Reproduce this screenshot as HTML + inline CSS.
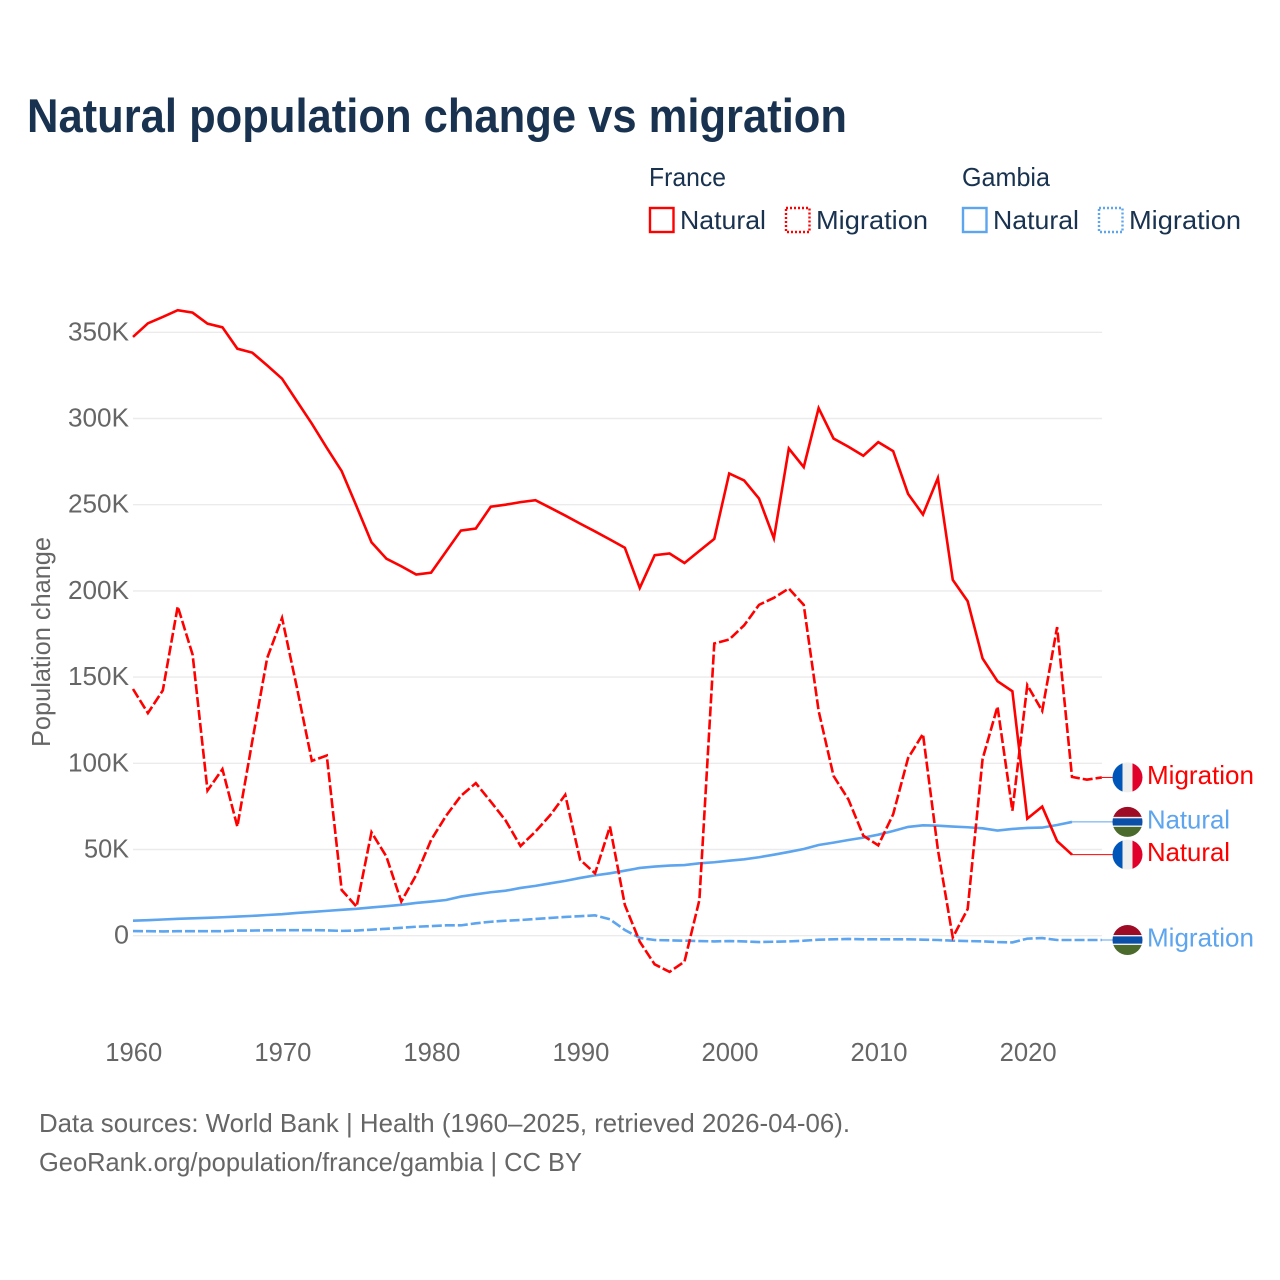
<!DOCTYPE html>
<html lang="en">
<head>
<meta charset="utf-8">
<title>Natural population change vs migration</title>
<style>
  html, body { margin: 0; padding: 0; background: #fff; }
  svg { display: block; font-family: "Liberation Sans", sans-serif; }
</style>
</head>
<body>
<svg id="chart" xmlns="http://www.w3.org/2000/svg" width="1280" height="1280" viewBox="0 0 1280 1280">
  <defs>
    <clipPath id="flag-clip"><circle cx="0" cy="0" r="15"></circle></clipPath>
  </defs>
  <rect x="0" y="0" width="1280" height="1280" fill="#ffffff"></rect>

  <text x="27" y="132" font-size="47" font-weight="700" fill="#18324f" textLength="820" lengthAdjust="spacingAndGlyphs">Natural population change vs migration</text>

  <g font-size="26" fill="#18324f">
    <text x="649" y="186" textLength="77" lengthAdjust="spacingAndGlyphs">France</text>
    <text x="962" y="186" textLength="88" lengthAdjust="spacingAndGlyphs">Gambia</text>

    <rect x="650" y="208" width="23.5" height="24" fill="none" stroke="#ff0000" stroke-width="2.4"></rect>
    <text x="680" y="229" textLength="86" lengthAdjust="spacingAndGlyphs">Natural</text>

    <rect x="786" y="208" width="23.5" height="24" fill="none" stroke="#ff0000" stroke-width="2.4" stroke-dasharray="2 2"></rect>
    <text x="816" y="229" textLength="112" lengthAdjust="spacingAndGlyphs">Migration</text>

    <rect x="963" y="208" width="23.5" height="24" fill="none" stroke="#5da5ee" stroke-width="2.4"></rect>
    <text x="993" y="229" textLength="86" lengthAdjust="spacingAndGlyphs">Natural</text>

    <rect x="1099" y="208" width="23.5" height="24" fill="none" stroke="#5da5ee" stroke-width="2.4" stroke-dasharray="2 2"></rect>
    <text x="1129" y="229" textLength="112" lengthAdjust="spacingAndGlyphs">Migration</text>
  </g>

  <g id="grid"></g>
  <g id="y-ticks"></g>
  <g id="x-ticks"></g>

  <text transform="translate(50 642) rotate(-90)" text-anchor="middle" font-size="26" fill="#666666" textLength="210" lengthAdjust="spacingAndGlyphs">Population change</text>

  <g id="series"></g>
  <g id="end-labels"></g>

  <text x="39" y="1132" font-size="26" fill="#666666" textLength="811" lengthAdjust="spacingAndGlyphs">Data sources: World Bank | Health (1960–2025, retrieved 2026-04-06).</text>
  <text x="39" y="1171" font-size="26" fill="#666666" textLength="543" lengthAdjust="spacingAndGlyphs">GeoRank.org/population/france/gambia | CC BY</text>
</svg>

<script>
// Chart data, in thousands of people per year, starting at 1960.
const startYear = 1960;
const yTickValues = [0, 50, 100, 150, 200, 250, 300, 350];
const yTickLabels = ['0', '50K', '100K', '150K', '200K', '250K', '300K', '350K'];
const xTickYears = [1960, 1970, 1980, 1990, 2000, 2010, 2020];

const franceNatural = [
  347.3, 355.2, 358.9, 362.8, 361.4, 355, 352.9, 340.5, 338.2, 330.8,
  323.1, 310, 297, 283, 269.5, 249, 228.2, 218.7, 214.3, 209.5,
  210.6, 222.8, 235, 236.2, 248.8, 250, 251.5, 252.6, 248.2, 243.7,
  239, 234.5, 229.8, 225, 201.7, 220.7, 221.7, 216.2, 223.2, 230.2,
  268.1, 264.1, 253.6, 230.5, 282.6, 271.8, 306, 288.4, 283.6, 278.4,
  286.3, 281.1, 256.3, 244.3, 265.5, 206.4, 194, 160.8, 147.6, 141.8,
  67.9, 74.9, 54.9, 47
];
const franceMigration = [
  143.1, 129.1, 142.3, 191, 163, 84.2, 96.6, 63.3, 112.7, 161,
  184.3, 143.8, 101.4, 104.5, 26.5, 16.8, 60, 45.9, 19.8, 35.2,
  55.5, 69.5, 81.1, 88.5, 77.8, 66.8, 52, 60.4, 70, 81.7,
  44, 36.2, 63.3, 17.8, -3.5, -16.6, -21, -15, 20.7, 169.5,
  171.8, 180, 191.9, 196, 201.4, 191.9, 130.4, 92.7, 79, 58,
  52.4, 70.4, 103, 117, 50, -1, 15.5, 102.5, 132.9, 72.5,
  145.3, 130.4, 179, 92.1, 90.5, 91.8
];
const gambiaNatural = [
  8.7, 9, 9.4, 9.8, 10.1, 10.4, 10.7, 11.1, 11.5, 12,
  12.5, 13.2, 13.8, 14.4, 15, 15.6, 16.4, 17.1, 17.9, 19,
  19.8, 20.7, 22.7, 24, 25.2, 26.1, 27.7, 28.9, 30.4, 31.8,
  33.5, 35, 36.2, 37.7, 39.3, 40.1, 40.7, 41, 42, 42.6,
  43.5, 44.3, 45.5, 47, 48.6, 50.3, 52.6, 54, 55.5, 56.9,
  58.6, 60.7, 63.1, 64, 63.8, 63.3, 62.9, 62.3, 61, 61.9,
  62.5, 62.7, 64.2, 66
];
const gambiaMigration = [
  2.7, 2.6, 2.5, 2.6, 2.6, 2.6, 2.6, 3, 3, 3.1,
  3.2, 3.2, 3.2, 3.1, 2.8, 3, 3.5, 4, 4.6, 5.2,
  5.6, 6, 6, 7.2, 8.1, 8.7, 9.1, 9.7, 10.3, 10.9,
  11.3, 11.8, 9.5, 3.3, -1.3, -2.5, -2.7, -2.9, -3.1, -3.3,
  -3.1, -3.3, -3.7, -3.5, -3.3, -2.9, -2.3, -2.1, -1.9, -2.1,
  -2.1, -2.1, -2.1, -2.3, -2.5, -2.9, -3.1, -3.3, -3.7, -3.9,
  -1.7, -1.4, -2.5, -2.5, -2.5, -2.5
];

const RED = '#ff0000';
const BLUE = '#5da5ee';
const GREY = '#666666';
const NS = 'http://www.w3.org/2000/svg';

// Axis functions
function xScale(year) { return 133 + (year - 1960) * 14.905; }
function yScale(value) { return 935.7 - value * 1.724; }

function make(tag, attrs, parent) {
  const el = document.createElementNS(NS, tag);
  for (const k in attrs) el.setAttribute(k, attrs[k]);
  parent.appendChild(el);
  return el;
}

const gridLayer = document.getElementById('grid');
const yTickLayer = document.getElementById('y-ticks');
const xTickLayer = document.getElementById('x-ticks');
const seriesLayer = document.getElementById('series');
const endLayer = document.getElementById('end-labels');

yTickValues.forEach(function (v, i) {
  const y = yScale(v);
  const line = make('line', { x1: 133, x2: 1102, y1: y, y2: y, stroke: '#ebebeb', 'stroke-width': 1.4 }, gridLayer);
  
  
  const label = yTickLabels[i];
  const t = make('text', { x: 129, y: y + 8, 'text-anchor': 'end', 'font-size': 26, fill: GREY, textLength: label.length === 1 ? 15 : (label.length === 3 ? 45 : 61), lengthAdjust: 'spacingAndGlyphs' }, yTickLayer);
  t.textContent = label;
  
  
});

xTickYears.forEach(function (yr) {
  const t = make('text', { x: xScale(yr) + 0.8, y: 1061, 'text-anchor': 'middle', 'font-size': 26, fill: GREY, textLength: 57, lengthAdjust: 'spacingAndGlyphs' }, xTickLayer);
  t.textContent = String(yr);
  
  
});

function drawLine(values, color, dashed, name) {
  const d = values.map(function (v, i) {
    return (i ? 'L' : 'M') + xScale(startYear + i).toFixed(2) + ' ' + yScale(v).toFixed(2);
  }).join(' ');
  const p = make('path', { d: d, fill: 'none', stroke: color, 'stroke-width': 2.6, 'stroke-linejoin': 'miter' }, seriesLayer);
  if (dashed) p.setAttribute('stroke-dasharray', '10 3');
  
  
}

drawLine(gambiaMigration, BLUE, true, 'gambia-migration-line');
drawLine(gambiaNatural, BLUE, false, 'gambia-natural-line');
drawLine(franceMigration, RED, true, 'france-migration-line');
drawLine(franceNatural, RED, false, 'france-natural-line');

function drawFlag(country, cy, group) {
  const g = make('g', { transform: 'translate(1127.5 ' + cy + ')', 'clip-path': 'url(#flag-clip)' }, group);
  
  
  if (country === 'france') {
    make('rect', { x: -16, y: -16, width: 11, height: 32, fill: '#0055b8' }, g);
    make('rect', { x: -5, y: -16, width: 10, height: 32, fill: '#eeeeee' }, g);
    make('rect', { x: 5, y: -16, width: 11, height: 32, fill: '#e0002a' }, g);
  } else {
    make('rect', { x: -16, y: -16, width: 32, height: 11, fill: '#9e0b25' }, g);
    make('rect', { x: -16, y: -5, width: 32, height: 10, fill: '#eeeeee' }, g);
    make('rect', { x: -16, y: -3.6, width: 32, height: 7.2, fill: '#0a4fa8' }, g);
    make('rect', { x: -16, y: 5, width: 32, height: 11, fill: '#4a6b2b' }, g);
  }
}

function drawEnd(values, color, country, text, width, name) {
  const last = values.length - 1;
  const y = yScale(values[last]);
  const group = make('g', {}, endLayer);
  
  
  const lead = make('line', { x1: xScale(startYear + last), x2: 1113, y1: y, y2: y, stroke: color, 'stroke-width': 1 }, group);
  
  
  drawFlag(country, y, group);
  const t = make('text', { x: 1147, y: y + 6.5, 'font-size': 26, fill: color, textLength: width, lengthAdjust: 'spacingAndGlyphs' }, group);
  t.textContent = text;
  
  
}

drawEnd(franceMigration, RED, 'france', 'Migration', 107, 'france-migration');
drawEnd(gambiaNatural, BLUE, 'gambia', 'Natural', 83, 'gambia-natural');
drawEnd(franceNatural, RED, 'france', 'Natural', 83, 'france-natural');
drawEnd(gambiaMigration, BLUE, 'gambia', 'Migration', 107, 'gambia-migration');
</script>
</body>
</html>
